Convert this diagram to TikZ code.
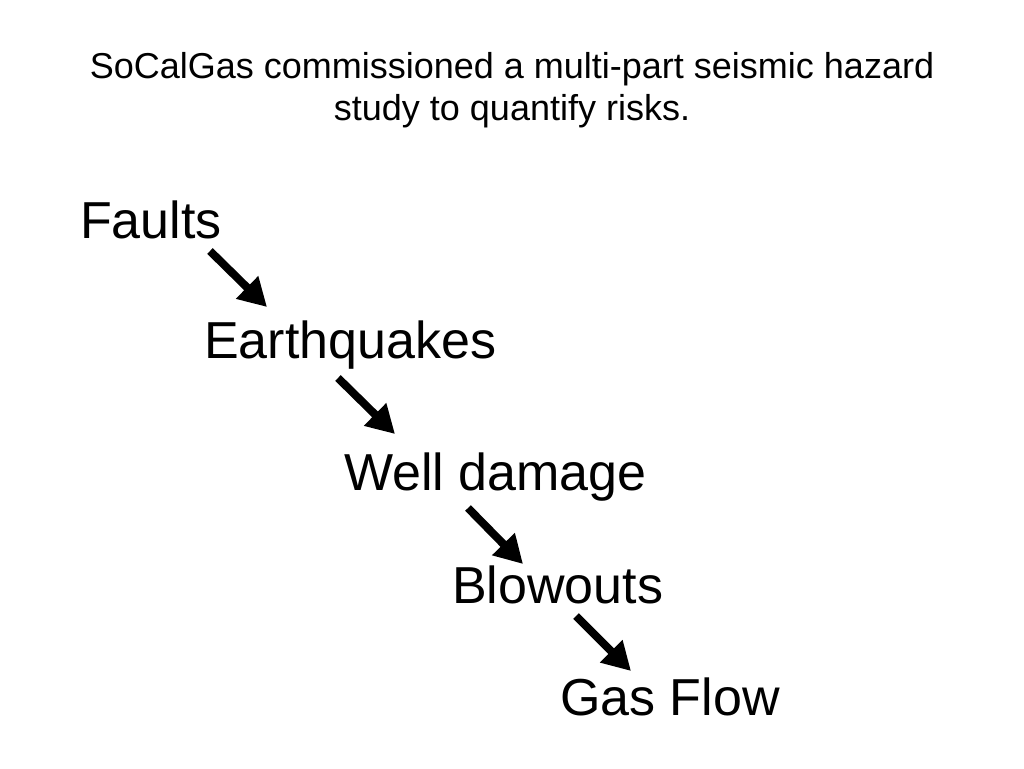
\documentclass[tikz,border=0pt]{standalone}
\usepackage{fontspec}
\setmainfont{Liberation Sans}
\usetikzlibrary{arrows.meta}
\begin{document}
\begin{tikzpicture}[x=1pt, y=1pt,
        step label/.style = {anchor=base west, inner sep=0pt, font=\fontsize{52}{60}\selectfont},
        title/.style = {anchor=base, inner sep=0pt, align=center, font=\fontsize{36}{42}\selectfont},
        arr/.style = {line width=8pt, -{Triangle[length=28pt, width=30pt]}}]
        \useasboundingbox (0,0) rectangle (1024,-768);
        \node[title] (head) at (512,-120) {SoCalGas commissioned a multi-part seismic hazard\\study to quantify risks.};
        \node[step label] (faults) at (80,-238) {Faults};
        \node[step label] (quakes) at (204,-358) {Earthquakes};
        \node[step label] (damage) at (344,-490) {Well damage};
        \node[step label] (blowouts) at (452,-603) {Blowouts};
        \node[step label] (gasflow) at (560,-715) {Gas Flow};
        % arrow ends
        \coordinate (a1) at (210,-251);
        \coordinate (b1) at (267,-307);
        \coordinate (a2) at (338,-378);
        \coordinate (b2) at (395,-434);
        \coordinate (a3) at (468,-508);
        \coordinate (b3) at (523,-564);
        \coordinate (a4) at (576,-616);
        \coordinate (b4) at (631,-671);
        \draw[arr] (a1) -- (b1);
        \draw[arr] (a2) -- (b2);
        \draw[arr] (a3) -- (b3);
        \draw[arr] (a4) -- (b4);
    \end{tikzpicture}
\end{document}
